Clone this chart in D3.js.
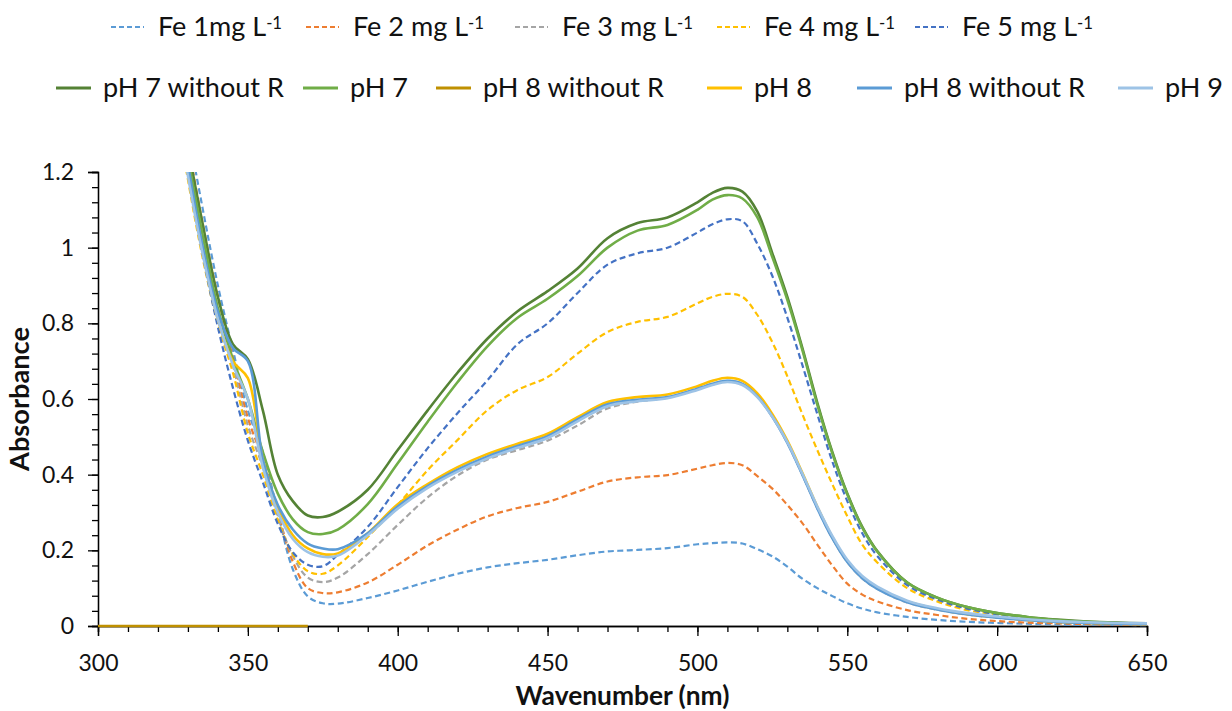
<!DOCTYPE html>
<html>
<head>
<meta charset="utf-8">
<script src="https://cdn.jsdelivr.net/npm/d3@7"></script>
<style>
  html, body { margin: 0; padding: 0; background: #fff; }
  svg { display: block; }
</style>
</head>
<body>
<svg id="chart" width="1232" height="711"></svg>
<script>
// wavelengths (nm) shared by the spectra
const wavelengths = [300, 310, 320, 325, 330, 335, 340, 345, 350, 355, 360, 365, 370, 375, 380,
  390, 400, 410, 420, 430, 440, 450, 460, 470, 480, 490, 500,
  505, 510, 515, 520, 525, 530, 535, 540, 545, 550, 555, 560,
  570, 580, 590, 600, 610, 620, 630, 640, 650]

const fe1 = [3.3, 2.6, 1.95, 1.6, 1.32, 1.1, 0.9, 0.73, 0.57, 0.46, 0.30, 0.15, 0.078, 0.06, 0.059,
  0.074, 0.094, 0.117, 0.138, 0.155, 0.166, 0.175, 0.187, 0.197, 0.201, 0.206, 0.216,
  0.219, 0.221, 0.218, 0.203, 0.184, 0.157, 0.125, 0.1, 0.079, 0.06, 0.046, 0.036,
  0.024, 0.016, 0.011, 0.008, 0.006, 0.004, 0.003, 0.003, 0.002]
const fe2 = [3.2, 2.55, 1.88, 1.55, 1.28, 1.06, 0.87, 0.71, 0.55, 0.44, 0.30, 0.17, 0.10, 0.087, 0.089,
  0.115, 0.162, 0.213, 0.255, 0.29, 0.312, 0.328, 0.355, 0.382, 0.393, 0.399, 0.416,
  0.425, 0.431, 0.425, 0.396, 0.363, 0.32, 0.272, 0.215, 0.16, 0.112, 0.083, 0.065,
  0.042, 0.029, 0.019, 0.013, 0.009, 0.007, 0.005, 0.004, 0.003]
const fe3 = [3.1, 2.5, 1.82, 1.5, 1.24, 1.03, 0.84, 0.69, 0.53, 0.42, 0.29, 0.185, 0.128, 0.116, 0.128,
  0.19, 0.267, 0.34, 0.398, 0.44, 0.465, 0.49, 0.53, 0.575, 0.593, 0.603, 0.628,
  0.64, 0.648, 0.64, 0.607, 0.553, 0.484, 0.4, 0.311, 0.232, 0.169, 0.126, 0.098,
  0.062, 0.043, 0.03, 0.022, 0.015, 0.011, 0.008, 0.006, 0.005]
const fe4 = [2.9, 2.3, 1.7, 1.42, 1.18, 0.97, 0.80, 0.67, 0.51, 0.40, 0.28, 0.19, 0.145, 0.138, 0.16,
  0.235, 0.32, 0.412, 0.492, 0.571, 0.624, 0.658, 0.72, 0.777, 0.804, 0.817, 0.853,
  0.87, 0.878, 0.87, 0.822, 0.75, 0.66, 0.56, 0.465, 0.375, 0.29, 0.215, 0.168,
  0.1, 0.065, 0.042, 0.03, 0.02, 0.013, 0.009, 0.006, 0.005]
const fe5 = [3.0, 2.4, 1.75, 1.45, 1.2, 0.98, 0.79, 0.63, 0.49, 0.38, 0.27, 0.195, 0.162, 0.158, 0.188,
  0.262, 0.367, 0.47, 0.563, 0.65, 0.745, 0.8, 0.88, 0.955, 0.985, 1.0, 1.04,
  1.062, 1.075, 1.07, 1.01, 0.925, 0.815, 0.69, 0.56, 0.435, 0.33, 0.245, 0.185,
  0.108, 0.07, 0.046, 0.031, 0.021, 0.014, 0.01, 0.007, 0.005]
const ph7NoR = [3.2, 2.6, 1.9, 1.55, 1.27, 1.06, 0.87, 0.745, 0.705, 0.57, 0.40, 0.33, 0.292, 0.288, 0.302,
  0.36, 0.465, 0.57, 0.67, 0.76, 0.832, 0.885, 0.945, 1.025, 1.065, 1.08, 1.12,
  1.145, 1.158, 1.148, 1.095, 0.985, 0.87, 0.735, 0.59, 0.46, 0.35, 0.262, 0.198,
  0.115, 0.075, 0.05, 0.034, 0.024, 0.017, 0.012, 0.009, 0.007]
const ph7 = [3.1, 2.5, 1.85, 1.5, 1.24, 1.03, 0.84, 0.705, 0.60, 0.46, 0.35, 0.282, 0.248, 0.243, 0.255,
  0.322, 0.43, 0.54, 0.645, 0.74, 0.815, 0.865, 0.925, 1.0, 1.045, 1.06, 1.1,
  1.127, 1.139, 1.13, 1.08, 0.975, 0.862, 0.73, 0.585, 0.457, 0.348, 0.26, 0.197,
  0.115, 0.075, 0.05, 0.034, 0.024, 0.016, 0.011, 0.008, 0.006]
// the gold "pH 8 without R" series only shows as a flat line on the axis
const ph8NoRGoldWl = [300, 370]
const ph8NoRGold = [0, 0]
const ph8 = [3.0, 2.4, 1.75, 1.45, 1.2, 0.99, 0.81, 0.70, 0.655, 0.44, 0.315, 0.24, 0.205, 0.19, 0.192,
  0.245, 0.322, 0.375, 0.42, 0.455, 0.482, 0.508, 0.552, 0.592, 0.605, 0.612, 0.634,
  0.648, 0.656, 0.648, 0.615, 0.56, 0.49, 0.405, 0.315, 0.235, 0.172, 0.128, 0.1,
  0.065, 0.045, 0.031, 0.023, 0.016, 0.011, 0.008, 0.006, 0.005]
const ph8NoRBlue = [3.0, 2.4, 1.78, 1.47, 1.22, 1.0, 0.83, 0.735, 0.70, 0.44, 0.32, 0.255, 0.218, 0.205, 0.203,
  0.245, 0.316, 0.37, 0.413, 0.448, 0.476, 0.502, 0.546, 0.586, 0.598, 0.605, 0.627,
  0.64, 0.648, 0.64, 0.607, 0.553, 0.484, 0.4, 0.311, 0.232, 0.169, 0.126, 0.098,
  0.063, 0.044, 0.031, 0.022, 0.016, 0.011, 0.008, 0.006, 0.005]
const ph9 = [2.95, 2.35, 1.72, 1.43, 1.19, 0.98, 0.81, 0.69, 0.60, 0.42, 0.30, 0.23, 0.195, 0.183, 0.186,
  0.24, 0.31, 0.365, 0.408, 0.443, 0.471, 0.497, 0.541, 0.581, 0.594, 0.602, 0.624,
  0.637, 0.645, 0.637, 0.605, 0.553, 0.486, 0.403, 0.316, 0.238, 0.175, 0.132, 0.104,
  0.067, 0.047, 0.034, 0.025, 0.018, 0.013, 0.01, 0.008, 0.007]

const xMajorTicks = [300, 350, 400, 450, 500, 550, 600, 650]
const yMajorTicks = [0, 0.2, 0.4, 0.6, 0.8, 1, 1.2]

const series = [
  { label: 'Fe 1mg L', sup: '-1', x: wavelengths, y: fe1, color: '#5B9BD5', dash: true },
  { label: 'Fe 2 mg L', sup: '-1', x: wavelengths, y: fe2, color: '#ED7D31', dash: true },
  { label: 'Fe 3 mg L', sup: '-1', x: wavelengths, y: fe3, color: '#A5A5A5', dash: true },
  { label: 'Fe 4 mg L', sup: '-1', x: wavelengths, y: fe4, color: '#FFC000', dash: true },
  { label: 'Fe 5 mg L', sup: '-1', x: wavelengths, y: fe5, color: '#4472C4', dash: true },
  { label: 'pH 7 without R', x: wavelengths, y: ph7NoR, color: '#548235' },
  { label: 'pH 7', x: wavelengths, y: ph7, color: '#70AD47' },
  { label: 'pH 8 without R', x: ph8NoRGoldWl, y: ph8NoRGold, color: '#BF9000' },
  { label: 'pH 8', x: wavelengths, y: ph8, color: '#FFC000' },
  { label: 'pH 8 without R', x: wavelengths, y: ph8NoRBlue, color: '#5B9BD5' },
  { label: 'pH 9', x: wavelengths, y: ph9, color: '#9DC3E6' },
]

// layout
const plot = { left: 98, right: 1147, top: 172, bottom: 626 }
const font = 'Lato, "Open Sans", sans-serif'

const svg = d3.select('#chart')

// pick font sizes so that a sample string gets the width seen in the picture
function fitSize(text, weight, target) {
  const t = svg.append('text').attr('font-family', font).attr('font-weight', weight)
    .attr('font-size', 100).text(text)
  const w = t.node().getComputedTextLength()
  t.remove()
  return 100 * target / w
}
const legendSize = fitSize('pH 7 without R', 400, 181)
const tickSize = fitSize('650', 400, 40)
const xTitleSize = fitSize('Wavenumber (nm)', 700, 214)
const yTitleSize = fitSize('Absorbance', 700, 144)

const x = d3.scaleLinear().domain([300, 650]).range([plot.left, plot.right])
const y = d3.scaleLinear().domain([0, 1.2]).range([plot.bottom, plot.top])

svg.append('defs').append('clipPath').attr('id', 'plot-clip')
  .append('rect')
  .attr('x', plot.left - 2).attr('y', plot.top)
  .attr('width', plot.right - plot.left + 4).attr('height', plot.bottom - plot.top + 3)

// axes
const axisColor = '#000'
const xMinor = d3.range(300, 651, 10)
const yMinor = d3.range(0, 1.2001, 0.04)

const gx = svg.append('g').attr('transform', `translate(0,${plot.bottom})`)
gx.append('g').call(d3.axisBottom(x).tickValues(xMinor).tickSize(6).tickFormat(''))
gx.append('g').call(d3.axisBottom(x).tickValues(xMajorTicks).tickSize(10).tickPadding(19)
  .tickFormat(d3.format('d')))

const gy = svg.append('g').attr('transform', `translate(${plot.left},0)`)
gy.append('g').call(d3.axisLeft(y).tickValues(yMinor).tickSize(6).tickFormat(''))
gy.append('g').call(d3.axisLeft(y).tickValues(yMajorTicks).tickSize(10).tickPadding(14)
  .tickFormat((d) => String(+d.toFixed(1))))

svg.selectAll('.domain').attr('stroke', axisColor).attr('stroke-width', 1.3)
svg.selectAll('.tick line').attr('stroke', axisColor).attr('stroke-width', 1.3)
svg.selectAll('.tick text').attr('font-family', font).attr('font-size', tickSize).attr('fill', '#111')

// curves
const line = d3.line()
  .x((d) => x(d[0]))
  .y((d) => y(d[1]))
  .curve(d3.curveCatmullRom.alpha(0.5))

svg.append('g').attr('clip-path', 'url(#plot-clip)')
  .selectAll('path')
  .data(series)
  .join('path')
  .attr('d', (s) => line(s.x.map((w, i) => [w, s.y[i]])))
  .attr('fill', 'none')
  .attr('stroke', (s) => s.color)
  .attr('stroke-width', (s) => (s.dash ? 2.2 : 2.6))
  .attr('stroke-dasharray', (s) => (s.dash ? '6,3.5' : null))
  .attr('stroke-linejoin', 'round')

// axis titles
svg.append('text')
  .attr('x', (plot.left + plot.right) / 2).attr('y', 705)
  .attr('text-anchor', 'middle')
  .attr('font-family', font).attr('font-weight', 700).attr('font-size', xTitleSize)
  .attr('fill', '#111')
  .text('Wavenumber (nm)')

svg.append('text')
  .attr('transform', `translate(29,${(plot.top + plot.bottom) / 2}) rotate(-90)`)
  .attr('text-anchor', 'middle')
  .attr('font-family', font).attr('font-weight', 700).attr('font-size', yTitleSize)
  .attr('fill', '#111')
  .text('Absorbance')

// legend: two rows, start x of each sample line
const legendRows = [
  { y: 27, items: [0, 1, 2, 3, 4], starts: [111, 306, 515, 717, 915], len: 33 },
  { y: 88, items: [5, 6, 7, 8, 9, 10], starts: [56, 303, 436, 707, 857, 1118], len: 35 },
]

const legend = svg.append('g')
legendRows.forEach((row) => {
  row.items.forEach((idx, k) => {
    const s = series[idx]
    const x0 = row.starts[k]
    const g = legend.append('g')
    g.append('line')
      .attr('x1', x0).attr('x2', x0 + row.len)
      .attr('y1', row.y).attr('y2', row.y)
      .attr('stroke', s.color)
      .attr('stroke-width', s.dash ? 2 : 2.8)
      .attr('stroke-dasharray', s.dash ? '5,3' : null)
    const t = g.append('text')
      .attr('x', x0 + 47).attr('y', row.y)
      .attr('dy', '0.35em')
      .attr('font-family', font).attr('font-size', legendSize)
      .attr('fill', '#111')
    t.append('tspan').text(s.label)
    if (s.sup) {
      t.append('tspan').attr('dy', '-0.45em').attr('font-size', legendSize * 0.62).text(s.sup)
    }
  })
})
</script>
</body>
</html>
